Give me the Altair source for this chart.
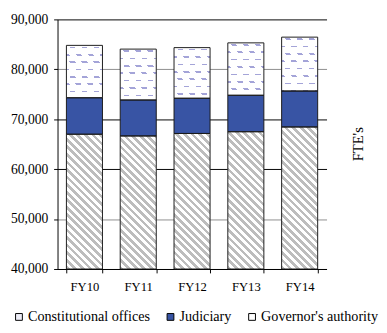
import math
import altair as alt
import pandas as pd

# ---- data ----
years = ["FY10", "FY11", "FY12", "FY13", "FY14"]
governor = [67000, 66650, 67150, 67500, 68450]       # top of Governor's authority segment
judiciary = [7300, 7200, 7050, 7300, 7200]
constitutional = [10500, 10200, 10150, 10500, 10800]
categories = ["Constitutional offices", "Judiciary", "Governor's authority"]
y_ticks = [40000, 50000, 60000, 70000, 80000, 90000]

# ---- layout / style ----
W, H = 277, 257
Y_MIN, Y_MAX = 40000, 90000
PAD_INNER, PAD_OUTER = 0.33, 0.165
FONT = "Liberation Serif"
BLUE = "#3854a4"
LAVENDER = "#a4a4d8"
GREY = "#bdbdbd"
CLEAR = "rgba(255,255,255,0)"

rows = []
for i, yr in enumerate(years):
    g = governor[i]
    j = g + judiciary[i]
    c = j + constitutional[i]
    rows.append(dict(year=yr, cat="Governor's authority", lo=Y_MIN, hi=g))
    rows.append(dict(year=yr, cat="Judiciary", lo=g, hi=j))
    rows.append(dict(year=yr, cat="Constitutional offices", lo=j, hi=c))
df = pd.DataFrame(rows)

step = W / (len(years) - PAD_INNER + 2 * PAD_OUTER)
BW = step * (1 - PAD_INNER)
PPU = H / (Y_MAX - Y_MIN)


def stop_list(pairs):
    return [{"offset": float(min(max(o, 0.0), 1.0)), "color": c} for o, c in pairs]


def hatch(w, h, period=5.5, frac=0.5, bg="#ffffff", fg=GREY):
    """diagonal '\\' stripes, 45 degrees in pixel space"""
    D = w + h
    span = D / math.sqrt(2)
    t = D / (w * w + h * h)
    pairs = []
    n = int(span / period) + 2
    for k in range(n):
        o0 = k * period / span
        o1 = (k + frac) * period / span
        pairs += [(o0, bg), (o0, fg), (o1, fg), (o1, bg)]
    return {"gradient": "linear", "x1": 0, "y1": 1, "x2": t * w, "y2": 1 - t * h,
            "stops": stop_list(pairs)}


ROW_GAP, ROW_THICK, ROW_FIRST = 7.6, 1.7, 1.2


def rows_grad(h, bg="#ffffff", fg=LAVENDER):
    pairs = [(0.0, bg)]
    y = ROW_FIRST
    while y < h:
        o0 = y / h
        o1 = (y + ROW_THICK) / h
        pairs += [(o0, bg), (o0, fg), (o1, fg), (o1, bg)]
        y += ROW_GAP
    return {"gradient": "linear", "x1": 0, "y1": 0, "x2": 0, "y2": 1,
            "stops": stop_list(pairs)}


def mask_grad(w, h, period=12.3, dash=5.5, x0=3.0):
    a, b = period / 2, ROW_GAP
    g0, g1 = b * w, -a * h
    D = g0 - g1
    t = D / (g0 * g0 + g1 * g1)
    base = b * x0 + a * (h - ROW_FIRST)
    per = b * period
    m0 = math.floor(-base / per) - 1
    m1 = math.ceil((D - base) / per) + 1
    pairs = [(0.0, "#ffffff")]
    for m in range(m0, m1 + 1):
        u0 = (base + m * per) / D
        u1 = (base + m * per + b * dash) / D
        pairs += [(u0, "#ffffff"), (u0, CLEAR), (u1, CLEAR), (u1, "#ffffff")]
    return {"gradient": "linear", "x1": 0, "y1": 1, "x2": t * g0, "y2": 1 + t * g1,
            "stops": stop_list(pairs)}


x_enc = alt.X("year:N", sort=years,
              scale=alt.Scale(paddingInner=PAD_INNER, paddingOuter=PAD_OUTER),
              axis=alt.Axis(title=None, labelAngle=0, tickBand="extent", tickSize=4,
                            labelPadding=8, labelFontSize=13, grid=False))
y_enc = alt.Y("lo:Q", scale=alt.Scale(domain=[Y_MIN, Y_MAX], nice=False, zero=False),
              axis=alt.Axis(values=y_ticks, format=",.0f", tickSize=4, labelPadding=6,
                            labelFontSize=14, grid=True,
                            gridColor={"condition": {"test": "datum.value == 50000 || datum.value == 80000",
                                                     "value": "#8c8c8c"},
                                       "value": "#000000"},
                            title="FTE's", titleX=309, titleY=128, titleAngle=270,
                            titleAlign="center", titleBaseline="middle",
                            titleFontSize=15, titleFontWeight="normal"))
y2_enc = alt.Y2("hi:Q")

base = alt.Chart(df).mark_bar().encode(
    x=x_enc, y=y_enc, y2=y2_enc,
    fill=alt.Fill("cat:N",
                  scale=alt.Scale(domain=categories, range=["#eeeef8", BLUE, "#ffffff"]),
                  legend=alt.Legend(title=None, orient="none", legendX=-47, legendY=299,
                                    direction="horizontal", symbolType="square",
                                    symbolSize=49, symbolStrokeColor="#000000",
                                    symbolStrokeWidth=1, labelFont=FONT, labelFontSize=14.6,
                                    labelColor="#000000", labelOffset=2, columnPadding=13,
                                    padding=0)),
)

layers = [base]
for i, yr in enumerate(years):
    h_gov = (governor[i] - Y_MIN) * PPU
    layers.append(
        alt.Chart(df).transform_filter(
            (alt.datum.year == yr) & (alt.datum.cat == "Governor's authority")
        ).mark_bar(fill=hatch(BW, h_gov)).encode(x=x_enc, y=y_enc, y2=y2_enc)
    )
for i, yr in enumerate(years):
    h_c = constitutional[i] * PPU
    sel = (alt.datum.year == yr) & (alt.datum.cat == "Constitutional offices")
    layers.append(
        alt.Chart(df).transform_filter(sel)
        .mark_bar(fill=rows_grad(h_c)).encode(x=x_enc, y=y_enc, y2=y2_enc)
    )
    layers.append(
        alt.Chart(df).transform_filter(sel)
        .mark_bar(fill=mask_grad(BW, h_c)).encode(x=x_enc, y=y_enc, y2=y2_enc)
    )

outline = alt.Chart(df).mark_bar(fill="transparent", stroke="#1a1a1a", strokeWidth=1).encode(
    x=x_enc, y=y_enc, y2=y2_enc)
layers.append(outline)

chart = (
    alt.layer(*layers)
    .properties(width=W, height=H, padding={"left": 2, "top": 0, "right": 0, "bottom": 0},
                background="white")
    .configure_view(stroke=None)
    .configure_axis(labelFont=FONT, titleFont=FONT, labelColor="#000000", titleColor="#000000",
                    domainColor="#000000", tickColor="#000000", domainWidth=1, tickWidth=1,
                    gridWidth=1)
    .configure_legend(labelFont=FONT)
)

chart.save("out.html", embed_options={"renderer": "svg", "actions": False})
